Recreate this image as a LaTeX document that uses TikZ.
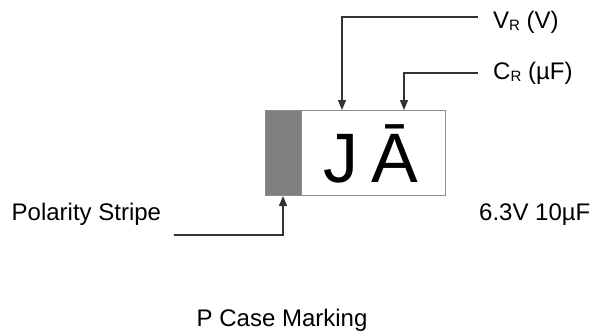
\documentclass[tikz,border=0pt]{standalone}
\usepackage{fontspec}
\setmainfont{Liberation Sans}
\usetikzlibrary{arrows.meta}
\tikzset{
  leader/.style={draw=black!80, line width=1.3pt, -{Triangle[width=8pt,length=10pt]}},
  lbl/.style={anchor=base west, inner sep=0pt, font=\fontsize{24}{24}\selectfont},
}
\newcommand{\subR}{\raisebox{-2pt}{\fontsize{15}{15}\selectfont R}}
\begin{document}
\begin{tikzpicture}[x=1pt,y=-1pt]
\useasboundingbox (0,0) rectangle (601,334);
% case body
\node[draw=black!45, line width=1pt, minimum width=180pt, minimum height=85pt,
      inner sep=0pt, anchor=north west, fill=white] (box) at (265,110) {};
\node[draw=black!45, line width=1pt, fill=black!50, minimum width=36pt, minimum height=85pt,
      inner sep=0pt, anchor=north west] (stripe) at (265,110) {};
\node[anchor=base west, inner sep=0pt, font=\fontsize{70}{70}\selectfont] (mark) at (323,182) {J\hspace{13.5pt}Ā};
% labels
\node[lbl] (vr) at (493,28.5) {V\subR{} (V)};
\node[lbl] (cr) at (493,79.5) {C\subR{} (µF)};
\node[lbl] (pol) at (11.5,220) {Polarity Stripe};
\node[lbl] (val) at (479,220.7) {6.3V 10µF};
\node[lbl] (cap) at (196.5,326.7) {P Case Marking};
% leader start points
\coordinate (vrs) at (478,17);
\coordinate (crs) at (478,73);
\coordinate (pols) at (174,235);
% leaders
\draw[leader] (vrs) -| ([xshift=77pt]box.north west);
\draw[leader] (crs) -| ([xshift=139pt]box.north west);
\draw[leader] (pols) -| ([xshift=18pt]stripe.south west);
\end{tikzpicture}
\end{document}
